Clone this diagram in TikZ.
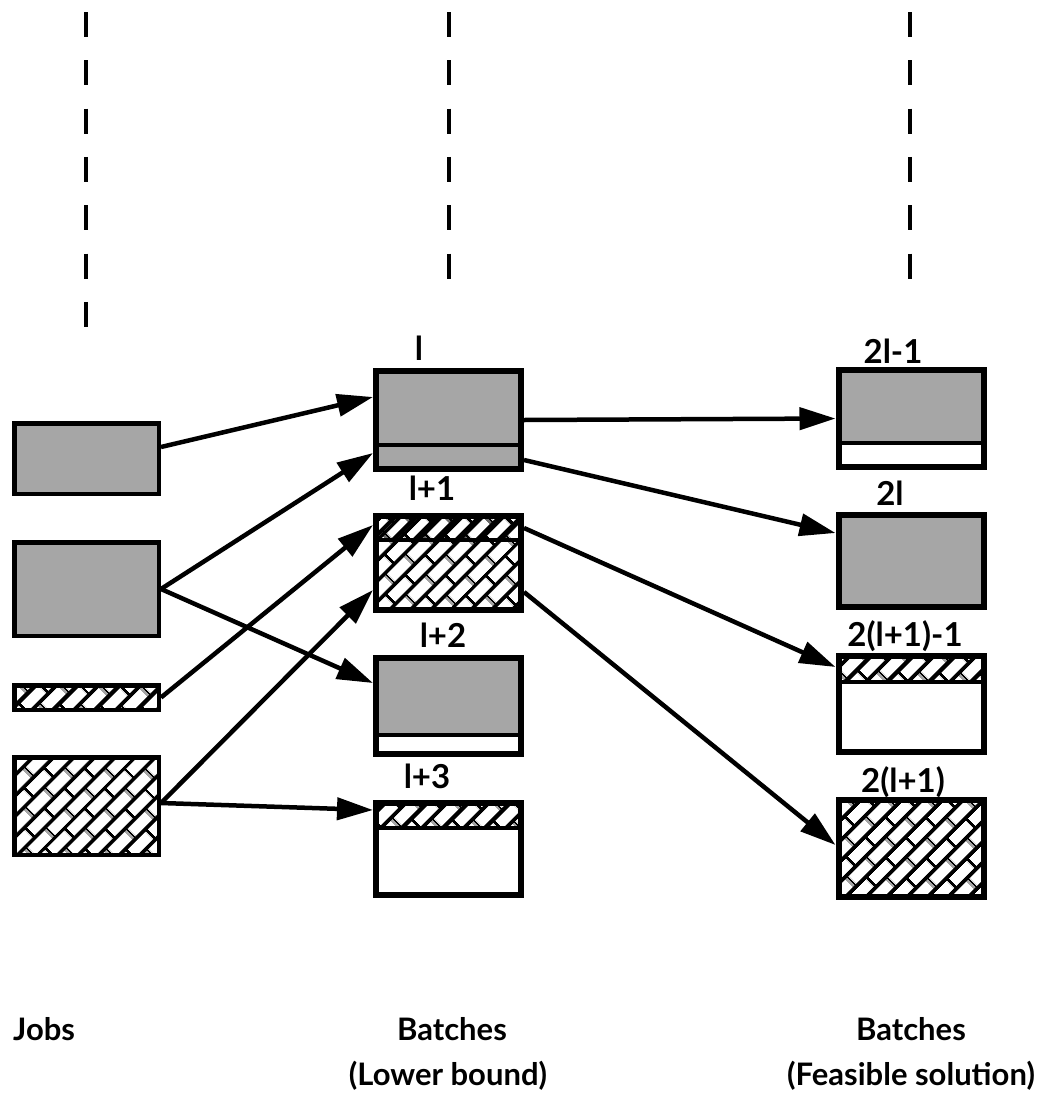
\documentclass[tikz,border=0pt]{standalone}
\usepackage{fontspec}
\setmainfont{Lato}
\usetikzlibrary{arrows.meta,patterns.meta}

\tikzdeclarepattern{
  name=bricks,
  type=colored,
  bounding box={(0pt,0pt) and (28pt,30pt)},
  tile size={(28pt,30pt)},
  tile transformation={rotate=45},
  code={
    \draw[line width=4pt] (-1pt,0pt) -- (29pt,0pt) (-1pt,15pt) -- (29pt,15pt) (-1pt,30pt) -- (29pt,30pt);
    \draw[line width=3pt] (0pt,0pt) -- (0pt,15pt) (28pt,0pt) -- (28pt,15pt) (14pt,15pt) -- (14pt,30pt);
  }
}

\tikzset{
  jobbox/.style={draw, line width=4.5pt, inner sep=0pt, minimum width=144.5pt},
  batchbox/.style={draw, line width=6pt, inner sep=0pt, minimum width=145pt},
  stipple/.style={fill=black!35},
  brick/.style={pattern=bricks},
  part/.style 2 args={path picture={
      \fill[#1] (path picture bounding box.north west) rectangle ([yshift=-#2]path picture bounding box.north east);
      \draw[line width=4pt] ([yshift=-#2]path picture bounding box.north west) -- ([yshift=-#2]path picture bounding box.north east);}},
  lbl/.style={font=\fontsize{33}{38}\selectfont\bfseries, inner sep=0pt},
  title/.style={font=\fontsize{31}{36}\selectfont\bfseries, inner sep=0pt},
  link/.style={-{Triangle[length=36pt,width=22pt]}, line width=4.5pt},
  dashline/.style={line width=4pt, dash pattern=on 25pt off 23.3pt}
}

\begin{document}
\begin{tikzpicture}[x=1pt, y=-1pt]
  \useasboundingbox (0,0) rectangle (1049,1100);

  % column guides
  \foreach \x/\y in {86/327, 449/279, 910/279}
    \draw[dashline] (\x,12) -- (\x,\y);

  % jobs
  \node[jobbox, stipple, minimum height=70.5pt] (j1) at (86.5,458.5) {};
  \node[jobbox, stipple, minimum height=93.5pt] (j2) at (86.5,589) {};
  \node[jobbox, brick, minimum height=24.5pt] (j3) at (86.5,697.5) {};
  \node[jobbox, brick, minimum height=97.5pt] (j4) at (86.5,806) {};

  % batches, lower bound
  \node[batchbox, stipple, part={black!35}{74pt}, minimum height=98pt] (bl0) at (448.5,420) {};
  \node[batchbox, brick, part={pattern=bricks}{24pt}, minimum height=94pt] (bl1) at (448.5,563) {};
  \node[batchbox, part={black!35}{77pt}, minimum height=96pt] (bl2) at (448.5,706) {};
  \node[batchbox, part={pattern=bricks}{25pt}, minimum height=92pt] (bl3) at (448.5,849) {};

  % batches, feasible solution
  \node[batchbox, part={black!35}{73pt}, minimum height=97pt] (fs1) at (911,418.5) {};
  \node[batchbox, stipple, minimum height=92pt] (fs2) at (911,561) {};
  \node[batchbox, part={pattern=bricks}{26pt}, minimum height=96pt] (fs3) at (911,704) {};
  \node[batchbox, brick, minimum height=97pt] (fs4) at (911,848.5) {};

  % box labels
  \node[lbl, anchor=base] (tl0) at (419,360) {l};
  \node[lbl, anchor=base] (tl1) at (432,500) {l+1};
  \node[lbl, anchor=base] (tl2) at (443,647) {l+2};
  \node[lbl, anchor=base] (tl3) at (427,788) {l+3};
  \node[lbl, anchor=base] (tr1) at (893,363) {2l-1};
  \node[lbl, anchor=base] (tr2) at (890,505) {2l};
  \node[lbl, anchor=base] (tr3) at (905,646) {2(l+1)-1};
  \node[lbl, anchor=base] (tr4) at (903,792) {2(l+1)};

  % assignments
  \draw[link] ([yshift=11.5pt]j1.east) -- ([yshift=23pt]bl0.west);
  \draw[link] (j2.east) -- ([yshift=-33pt]bl0.west);
  \draw[link] (j2.east) -- ([yshift=23pt]bl2.west);
  \draw[link] (j3.east) -- ([yshift=38pt]bl1.west);
  \draw[link] ([yshift=3pt]j4.east) -- ([yshift=-27pt]bl1.west);
  \draw[link] ([yshift=3pt]j4.east) -- ([yshift=39pt]bl3.west);
  \draw[link] (bl0.east) -- (fs1.west);
  \draw[link] ([yshift=-40pt]bl0.east) -- ([yshift=28pt]fs2.west);
  \draw[link] ([yshift=35pt]bl1.east) -- ([yshift=37pt]fs3.west);
  \draw[link] ([yshift=-29pt]bl1.east) -- ([yshift=3.5pt]fs4.west);

  % column titles
  \node[title, anchor=base west] (jobs) at (13,1040) {Jobs};
  \node[title, anchor=base] (lbA) at (452,1040) {Batches};
  \node[title, anchor=base] (lbB) at (448,1085) {(Lower bound)};
  \node[title, anchor=base] (fsA) at (911,1040) {Batches};
  \node[title, anchor=base] (fsB) at (911,1085) {(Feasible solution)};
\end{tikzpicture}
\end{document}
